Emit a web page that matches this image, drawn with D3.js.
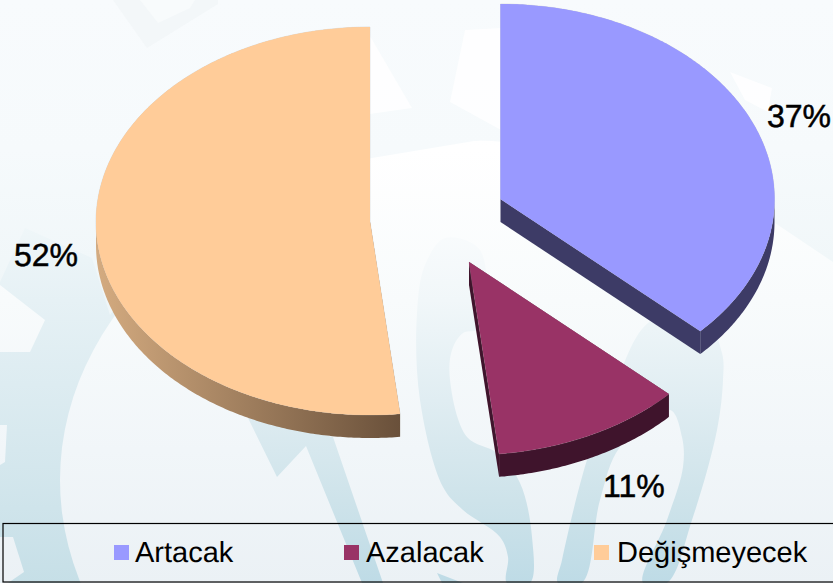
<!DOCTYPE html>
<html><head><meta charset="utf-8">
<script src="https://cdn.jsdelivr.net/npm/d3@7/dist/d3.min.js"></script>
<style>html,body{margin:0;padding:0;background:#fff}svg{display:block}text{font-family:"Liberation Sans",Arial,sans-serif;fill:#000;text-rendering:geometricPrecision}</style>
</head><body><svg id="c" width="833" height="583"></svg>
<script>
// ---- data
const categories = ["Artacak", "Azalacak", "Değişmeyecek"];
const values = [37, 11.25, 51.75];
const faceColors = ["#9999ff", "#993366", "#ffcc99"];
const sideColors = ["#3d3b66", "#3f142c", "url(#rimOrange)"];

// ---- layout
const W = 833, H = 583;
const rx = 274, ryTop = 195, ryBottom = 193, depth = 23;
const centers = [[500.5, 199], [469, 262], [370, 222]];
const labelPos = [[767, 127], [603, 497], [14, 266]];
const legendSwatchX = [114, 344, 594];
const legendTextX = [135, 366, 617];

// ---- decorative watermark outlines
const toothTop = [[113,0],[147,48],[218,4],[218,0]];
const toothTopHole = [[140,0],[158,23],[190,8],[195,0]];
const upperLeft = [[0,0],[833,0],[833,262],[720,186],[600,150],[480,140],[300,170],[160,245],[110,315],[92,258],[25,228],[0,282]];
const gaps = [
  [[0,285],[45,320],[30,352],[0,352]],
  [[0,425],[7,425],[5,462],[0,465]],
  [[0,537],[13,537],[24,572],[8,583],[0,583]]
];
const whites = [
  [[370,36],[412,108],[370,114]],
  [[465,30],[501,28],[501,130],[450,102]],
  [[730,72],[772,88],[768,112],[745,100]]
];
const arrow = [[248,418],[277,477],[306,446],[362,583],[383,583],[333,437]];
const stripLeft = [[445,238],[425,265],[417,313],[420,400],[443,487],[463,510],[500,537],[508,557],[507,583],[530,583],[532,537],[520,483],[497,453],[467,437],[450,380],[452,350],[463,333],[480,328],[480,250]];
const stripRight = [[558,583],[562,560],[587,460],[610,400],[648,323],[700,310],[722,353],[723,380],[717,430],[692,520],[667,583],[643,583],[667,520],[683,467],[682,437],[670,410],[620,447],[600,500],[582,583]];
const leftCorner = [[437,573],[463,583],[442,583]];

const svg = d3.select("#c");
const defs = svg.append("defs");
function vGrad(id, stops){
  const g = defs.append("linearGradient").attr("id",id).attr("gradientUnits","userSpaceOnUse")
    .attr("x1",0).attr("x2",0).attr("y1",0).attr("y2",H);
  stops.forEach(s=>g.append("stop").attr("offset",s[0]/H).attr("stop-color",s[1]));
}
vGrad("gear",[[0,"#f8fbfd"],[220,"#f0f7f9"],[300,"#e6f1f5"],[450,"#d6e8ee"],[583,"#c6dfe7"]]);
vGrad("light",[[0,"#fbfdfe"],[150,"#ffffff"],[300,"#f8fbfc"],[450,"#f1f6f9"],[583,"#ebf1f5"]]);
vGrad("upper",[[0,"#f8fbfd"],[150,"#f6fafc"],[300,"#eff6f8"],[583,"#e8f1f5"]]);
vGrad("strip",[[200,"#fcfdfe"],[300,"#f1f7f9"],[400,"#e0edf2"],[500,"#cee3ea"],[583,"#bedbe6"]]);
const rim = defs.append("linearGradient").attr("id","rimOrange").attr("gradientUnits","userSpaceOnUse")
  .attr("x1",centers[2][0]-rx).attr("x2",centers[2][0]+31).attr("y1",0).attr("y2",0);
rim.append("stop").attr("offset",0).attr("stop-color","#d4ab80");
rim.append("stop").attr("offset",1).attr("stop-color","#69503a");

// ---- background
const bg = svg.append("g");
const poly = d3.line().curve(d3.curveLinearClosed);
const blob = d3.line().curve(d3.curveCatmullRomClosed.alpha(0.5));
bg.append("rect").attr("width",W).attr("height",H).attr("fill","url(#gear)");
bg.append("ellipse").attr("cx",500).attr("cy",480).attr("rx",440).attr("ry",340).attr("fill","url(#light)");
bg.append("path").attr("d",poly(upperLeft)).attr("fill","url(#upper)");
bg.append("path").attr("d",poly(toothTop)).attr("fill","#f3f7f9");
bg.append("path").attr("d",poly(toothTopHole)).attr("fill","#f8fbfc");
gaps.forEach(p=>bg.append("path").attr("d",poly(p)).attr("fill","url(#light)"));
whites.forEach(p=>bg.append("path").attr("d",poly(p)).attr("fill","#ffffff").attr("fill-opacity",0.8));
[arrow,leftCorner].forEach(p=>bg.append("path").attr("d",poly(p)).attr("fill","url(#strip)"));
[stripLeft,stripRight].forEach(p=>bg.append("path").attr("d",blob(p)).attr("fill","url(#strip)"));

// ---- projection of the tilted pie
const pt = (i, a, dz=0) => {
  const c = Math.cos(a);
  return [centers[i][0] + rx*Math.sin(a), centers[i][1] - (c>0?ryTop:ryBottom)*c + dz];
};
const arcPts = (i, a0, a1, dz=0) => {
  const n = Math.max(2, Math.ceil((a1-a0)/0.01));
  return d3.range(n+1).map(k=>pt(i, a0+(a1-a0)*k/n, dz));
};
const slices = d3.pie().sort(null).value(d=>d)(values);
const pies = svg.append("g");
slices.forEach((s,i)=>{
  const a0=s.startAngle, a1=s.endAngle, [cx,cy]=centers[i];
  const g = pies.append("g");
  [a0,a1].forEach(a=>{
    const p = pt(i,a);
    g.append("path").attr("d",poly([[cx,cy],p,[p[0],p[1]+depth],[cx,cy+depth]])).attr("fill",sideColors[i]);
  });
  const r0=Math.max(a0,Math.PI/2), r1=Math.min(a1,3*Math.PI/2);
  if(r1>r0){
    const top=arcPts(i,r0,r1), bot=arcPts(i,r0,r1,depth).reverse();
    g.append("path").attr("d",poly(top.concat(bot))).attr("fill",sideColors[i]);
  }
  g.append("path").attr("d",poly([[cx,cy]].concat(arcPts(i,a0,a1))))
    .attr("fill",faceColors[i]).attr("stroke","#b5b5b5").attr("stroke-opacity",0.55).attr("stroke-width",0.6);
  g.append("path").attr("d",poly([[cx,cy]].concat(arcPts(i,a0,a1))))
    .attr("fill",faceColors[i]);
});

// ---- value labels
svg.append("g").selectAll("text").data(values).join("text")
  .attr("x",(d,i)=>labelPos[i][0]).attr("y",(d,i)=>labelPos[i][1])
  .attr("font-size",32).attr("stroke","#000").attr("stroke-width",0.5)
  .text(d=>Math.round(d)+"%");

// ---- legend
svg.append("rect").attr("x",3).attr("y",523.5).attr("width",W+10).attr("height",58.5)
  .attr("fill","none").attr("stroke","#000").attr("stroke-width",1.2);
const lg = svg.append("g");
categories.forEach((c,i)=>{
  lg.append("rect").attr("x",legendSwatchX[i]).attr("y",545).attr("width",15).attr("height",15).attr("fill",faceColors[i]);
  lg.append("text").attr("x",legendTextX[i]).attr("y",562).attr("font-size",29).text(c);
});
</script></body></html>
